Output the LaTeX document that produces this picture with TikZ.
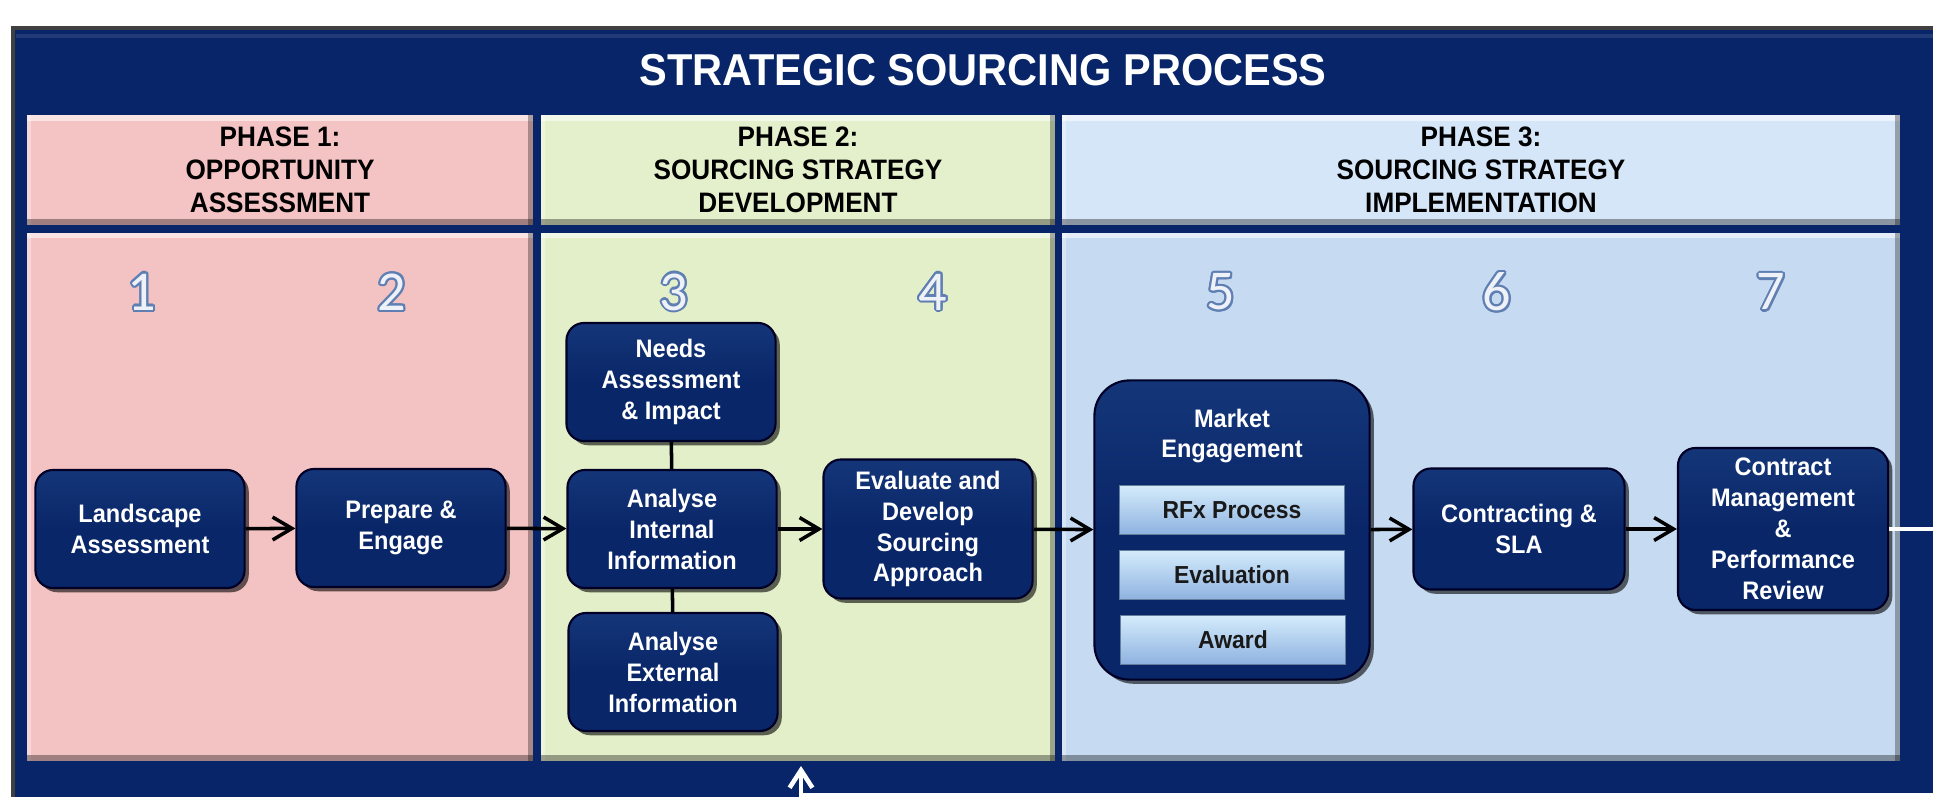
\documentclass[tikz,border=0pt]{standalone}
\usepackage{fontspec}
\setmainfont{Liberation Sans}[FakeStretch=0.93]
\newfontfamily\digitfont{Carlito}
\usepackage{contour}
\contourlength{0.6pt}
\usetikzlibrary{arrows.meta,shadows}

\definecolor{framenavy}{HTML}{072568}
\definecolor{boxnavy}{HTML}{092668}
\definecolor{boxtop}{HTML}{143679}
\definecolor{phaseonehead}{HTML}{F4C3C3}
\definecolor{phaseonebody}{HTML}{F3C2C2}
\definecolor{phasetwohead}{HTML}{E4F0CB}
\definecolor{phasetwobody}{HTML}{E2EFC8}
\definecolor{phasethreehead}{HTML}{D6E6F9}
\definecolor{phasethreebody}{HTML}{C6DAF1}
\definecolor{subtop}{HTML}{D4EBFB}
\definecolor{subbottom}{HTML}{8EB2E0}
\definecolor{digitedge}{HTML}{5F7FB3}
\definecolor{digitfill}{HTML}{EEF2F8}

\newcommand\stepnum[1]{\contour{digitedge}{#1}}

\begin{document}
\begin{tikzpicture}[x=0.01cm,y=-0.01cm,
  phasebox/.style={inner sep=0pt,
    path picture={
      \fill[white,opacity=0.55] (path picture bounding box.north west) rectangle ([yshift=-1.6pt]path picture bounding box.north east);
      \fill[white,opacity=0.35] (path picture bounding box.north west) rectangle ([xshift=1.2pt]path picture bounding box.south west);
      \fill[black,opacity=0.35] ([yshift=1.8pt]path picture bounding box.south west) rectangle (path picture bounding box.south east);
      \fill[black,opacity=0.3] ([xshift=-1.4pt]path picture bounding box.south east) rectangle (path picture bounding box.north east);
    }},
  phasehead/.style={phasebox,minimum height=1.10cm,align=center,
    font=\bfseries\fontsize{8}{9.4}\selectfont},
  stepbox/.style={rounded corners=5pt,top color=boxtop,bottom color=boxnavy,
    middle color=boxnavy,draw=black!85!blue,line width=0.6pt,text=white,
    align=center,inner sep=1pt,minimum width=2.09cm,minimum height=1.18cm,
    font=\bfseries\fontsize{7.2}{8.8}\selectfont,
    drop shadow={shadow xshift=1.2pt,shadow yshift=-1.2pt,fill=black,opacity=0.6}},
  subbox/.style={top color=subtop,bottom color=subbottom,draw=subbottom!70!black,
    line width=0.4pt,minimum width=2.25cm,minimum height=0.49cm,inner sep=0pt,
    text=black!90,font=\bfseries\fontsize{7}{8}\selectfont},
  digit/.style={text=digitfill,font=\digitfont\fontsize{16}{16}\selectfont},
  flow/.style={-{Straight Barb[length=5.5pt,width=6.5pt]},line width=1pt},
  link/.style={line width=1pt},
  loopline/.style={white,line width=1.3pt,-{Straight Barb[length=5pt,width=6.5pt]}}]
\useasboundingbox (0,0) rectangle (1933,797);
\clip (0,0) rectangle (1933,797);
\fill[white] (0,0) rectangle (1933,797);
\fill[framenavy] (13,28) rectangle (1980,840);
\draw[black!75,line width=1.2pt] (13,840) -- (13,28) -- (1980,28);
\draw[framenavy!80!white,line width=1.2pt,opacity=0.5] (16,36) -- (1980,36);

\node[text=white,font=\bfseries\fontsize{12.7}{14}\selectfont] (title) at (983,70) {STRATEGIC SOURCING PROCESS};

\node[phasehead,fill=phaseonehead,minimum width=5.06cm] (ph1head) at (280,170) {PHASE 1:\\OPPORTUNITY\\ASSESSMENT};
\node[phasehead,fill=phasetwohead,minimum width=5.14cm] (ph2head) at (798,170) {PHASE 2:\\SOURCING STRATEGY\\DEVELOPMENT};
\node[phasehead,fill=phasethreehead,minimum width=8.38cm] (ph3head) at (1481,170) {PHASE 3:\\SOURCING STRATEGY\\IMPLEMENTATION};

\node[phasebox,fill=phaseonebody,minimum width=5.06cm,minimum height=5.28cm] (ph1body) at (280,497) {};
\node[phasebox,fill=phasetwobody,minimum width=5.14cm,minimum height=5.28cm] (ph2body) at (798,497) {};
\node[phasebox,fill=phasethreebody,minimum width=8.38cm,minimum height=5.28cm] (ph3body) at (1481,497) {};

\node[digit] (n1) at (142,293) {\stepnum{1}};
\node[digit] (n2) at (392,293) {\stepnum{2}};
\node[digit] (n3) at (674,293) {\stepnum{3}};
\node[digit] (n4) at (933,293) {\stepnum{4}};
\node[digit] (n5) at (1221,293) {\stepnum{5}};
\node[digit] (n6) at (1497,293) {\stepnum{6}};
\node[digit] (n7) at (1771,293) {\stepnum{7}};

\node[stepbox] (land) at (140,529) {Landscape\\Assessment};
\node[stepbox] (prep) at (401,528) {Prepare \&\\Engage};
\node[stepbox] (needs) at (671,382) {Needs\\Assessment\\\& Impact};
\node[stepbox] (inter) at (672,529) {Analyse\\Internal\\Information};
\node[stepbox] (exter) at (673,672) {Analyse\\External\\Information};
\node[stepbox,minimum height=1.39cm] (evalu) at (928,529) {Evaluate and\\Develop\\Sourcing\\Approach};
\node[stepbox,rounded corners=10pt,minimum width=2.75cm,minimum height=2.99cm] (market) at (1232,530) {};
\node[text=white,align=center,font=\bfseries\fontsize{7.2}{8.8}\selectfont] (mtitle) at (1232,436) {Market\\Engagement};
\node[subbox] (rfx) at (1232,510) {RFx Process};
\node[subbox] (evaln) at (1232,575) {Evaluation};
\node[subbox] (award) at (1233,640) {Award};
\node[stepbox,minimum width=2.11cm,minimum height=1.21cm] (contr) at (1519,529) {Contracting \&\\SLA};
\node[stepbox,minimum width=2.10cm,minimum height=1.62cm] (cmgmt) at (1783,529) {Contract\\Management\\\&\\Performance\\Review};

\draw[flow] (land) -- (prep);
\draw[flow] (prep) -- (inter);
\draw[link] (needs) -- (inter);
\draw[link] (inter) -- (exter);
\draw[flow] (inter) -- (evalu);
\draw[flow] (evalu) -- (market);
\draw[flow] (market) -- (contr);
\draw[flow] (contr) -- (cmgmt);

\coordinate (loopout) at (1960,529);
\coordinate (loopin) at (1960,795);
\coordinate (loopback) at (801,766);
\draw[white,line width=1.3pt] (cmgmt) -- (loopout);
\draw[loopline] (loopin) -| (loopback);
\end{tikzpicture}
\end{document}
